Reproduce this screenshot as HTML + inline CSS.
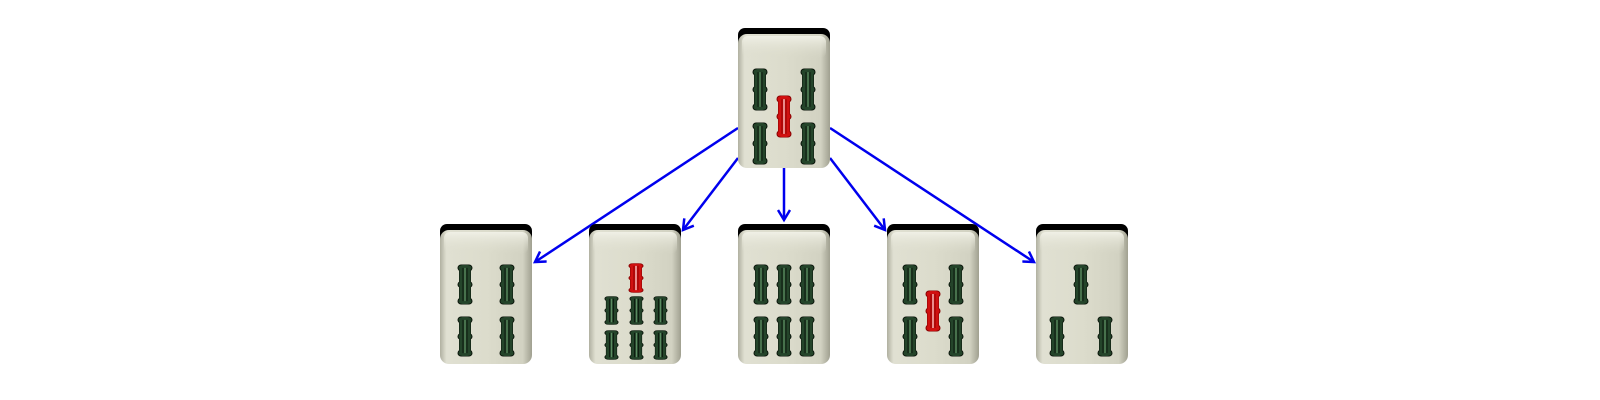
<!DOCTYPE html>
<html><head><meta charset="utf-8"><style>html,body{margin:0;padding:0;background:#fff}svg{display:block}</style></head>
<body>
<svg width="1600" height="400" viewBox="0 0 1600 400" xmlns="http://www.w3.org/2000/svg">
<defs>
<linearGradient id="face" x1="0" y1="0" x2="1" y2="0">
<stop offset="0" stop-color="#b0b0a0"/><stop offset="0.07" stop-color="#e0e0d2"/><stop offset="0.5" stop-color="#dcdccc"/><stop offset="0.9" stop-color="#d2d2c2"/><stop offset="1" stop-color="#a0a090"/>
</linearGradient>
<linearGradient id="topg" x1="0" y1="0" x2="0" y2="1">
<stop offset="0" stop-color="#f0f0e6"/><stop offset="1" stop-color="#dcdccc" stop-opacity="0"/>
</linearGradient>
<g id="tile">
<rect x="0" y="0" width="92" height="20" rx="7" fill="#000"/>
<rect x="0" y="6" width="92" height="134" rx="9" fill="url(#face)"/>
<rect x="4" y="8" width="84" height="22" rx="6" fill="url(#topg)"/>
</g>
<symbol id="gs" viewBox="0 0 16 42" preserveAspectRatio="none">
<g fill="#24442a" stroke="#0a140a" stroke-width="1">
<rect x="2.5" y="1" width="11" height="40" rx="3"/>
<rect x="1" y="1" width="14" height="6" rx="3"/>
<rect x="1" y="18" width="14" height="6" rx="3"/>
<rect x="1" y="35" width="14" height="6" rx="3"/>
</g>
<rect x="2.5" y="1" width="11" height="40" rx="3" fill="#24442a"/>
<line x1="6" y1="4" x2="6" y2="38" stroke="#0a140a" stroke-width="0.9"/>
<line x1="10" y1="4" x2="10" y2="38" stroke="#0a140a" stroke-width="0.9"/>
<line x1="8" y1="4" x2="8" y2="38" stroke="#5a8a60" stroke-width="1.3"/>
</symbol>
<symbol id="rs" viewBox="0 0 16 42" preserveAspectRatio="none">
<g fill="#d01010" stroke="#800" stroke-width="1">
<rect x="2.5" y="1" width="11" height="40" rx="3"/>
<rect x="1" y="1" width="14" height="6" rx="3"/>
<rect x="1" y="18" width="14" height="6" rx="3"/>
<rect x="1" y="35" width="14" height="6" rx="3"/>
</g>
<rect x="2.5" y="1" width="11" height="40" rx="3" fill="#d01010"/>
<line x1="6" y1="4" x2="6" y2="38" stroke="#800" stroke-width="0.9"/>
<line x1="10" y1="4" x2="10" y2="38" stroke="#800" stroke-width="0.9"/>
<line x1="8" y1="4" x2="8" y2="38" stroke="#f8d0d0" stroke-width="1.3"/>
</symbol>
<marker id="ah" markerWidth="14" markerHeight="14" refX="11" refY="7" orient="auto" markerUnits="userSpaceOnUse">
<path d="M1,1 L11,7 L1,13" fill="none" stroke="#0000ee" stroke-width="2.5"/>
</marker>
</defs>

<g stroke="#0000ee" stroke-width="2.5" fill="none" marker-end="url(#ah)">
<line x1="738" y1="128" x2="535" y2="262"/>
<line x1="738" y1="158" x2="683" y2="230"/>
<line x1="784" y1="168" x2="784" y2="220"/>
<line x1="830" y1="158" x2="885" y2="230"/>
<line x1="830" y1="128" x2="1034" y2="262"/>
</g>

<g transform="translate(738,28)">
<use href="#tile"/>
<use href="#gs" x="14" y="40" width="16" height="43"/>
<use href="#gs" x="62" y="40" width="16" height="43"/>
<use href="#gs" x="14" y="94" width="16" height="43"/>
<use href="#gs" x="62" y="94" width="16" height="43"/>
<use href="#rs" x="38" y="67" width="16" height="43"/>
</g>

<g transform="translate(440,224)">
<use href="#tile"/>
<use href="#gs" x="17" y="40" width="16" height="41"/>
<use href="#gs" x="59" y="40" width="16" height="41"/>
<use href="#gs" x="17" y="92" width="16" height="41"/>
<use href="#gs" x="59" y="92" width="16" height="41"/>
</g>

<g transform="translate(589,224)">
<use href="#tile"/>
<use href="#rs" x="39" y="39" width="16" height="30"/>
<use href="#gs" x="15" y="72" width="15" height="29"/>
<use href="#gs" x="40" y="72" width="15" height="29"/>
<use href="#gs" x="64" y="72" width="15" height="29"/>
<use href="#gs" x="15" y="106" width="15" height="30"/>
<use href="#gs" x="40" y="106" width="15" height="30"/>
<use href="#gs" x="64" y="106" width="15" height="30"/>
</g>

<g transform="translate(738,224)">
<use href="#tile"/>
<use href="#gs" x="15" y="40" width="16" height="41"/>
<use href="#gs" x="38" y="40" width="16" height="41"/>
<use href="#gs" x="61" y="40" width="16" height="41"/>
<use href="#gs" x="15" y="92" width="16" height="41"/>
<use href="#gs" x="38" y="92" width="16" height="41"/>
<use href="#gs" x="61" y="92" width="16" height="41"/>
</g>

<g transform="translate(887,224)">
<use href="#tile"/>
<use href="#gs" x="15" y="40" width="16" height="41"/>
<use href="#gs" x="61" y="40" width="16" height="41"/>
<use href="#gs" x="15" y="92" width="16" height="41"/>
<use href="#gs" x="61" y="92" width="16" height="41"/>
<use href="#rs" x="38" y="66" width="16" height="42"/>
</g>

<g transform="translate(1036,224)">
<use href="#tile"/>
<use href="#gs" x="37" y="40" width="16" height="41"/>
<use href="#gs" x="13" y="92" width="16" height="41"/>
<use href="#gs" x="61" y="92" width="16" height="41"/>
</g>
</svg>
</body></html>
